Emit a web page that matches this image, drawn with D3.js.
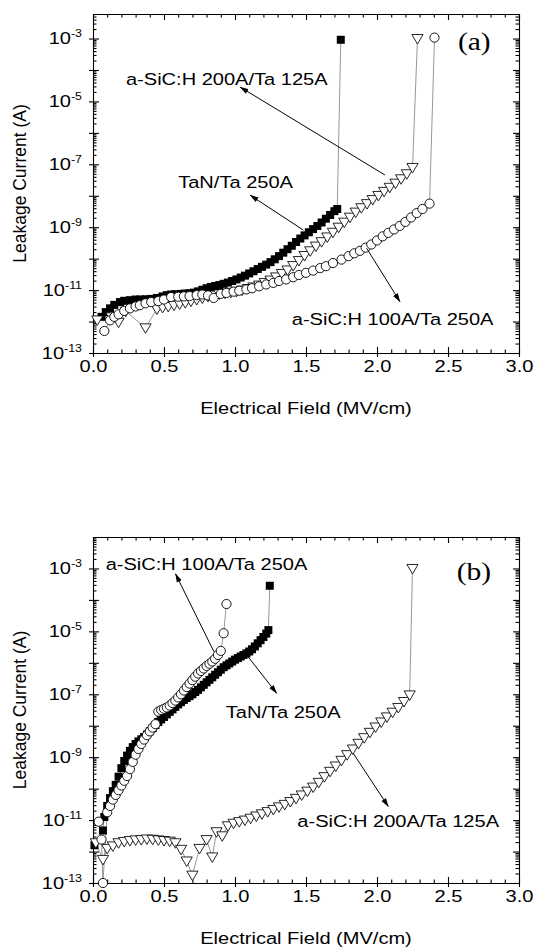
<!DOCTYPE html>
<html><head><meta charset="utf-8">
<script src="https://cdn.jsdelivr.net/npm/d3@7"></script>
<style>body{margin:0;background:#fff}svg{display:block}</style>
</head><body>
<svg id="c" width="535" height="951"></svg>
<script>
// ---------- tick / title data ----------
const xTickValues = [0, 0.5, 1, 1.5, 2, 2.5, 3];
const xTickLabels = ["0.0", "0.5", "1.0", "1.5", "2.0", "2.5", "3.0"];
const xMinorValues = [0.1,0.2,0.3,0.4,0.6,0.7,0.8,0.9,1.1,1.2,1.3,1.4,1.6,1.7,1.8,1.9,2.1,2.2,2.3,2.4,2.6,2.7,2.8,2.9];
const yLabelExps = [-3, -5, -7, -9, -11, -13];
const yMajorExps = [-3, -4, -5, -6, -7, -8, -9, -10, -11, -12, -13];
const xTitle = "Electrical Field (MV/cm)";
const yTitle = "Leakage Current (A)";
const seriesNames = ["TaN/Ta 250A", "a-SiC:H 200A/Ta 125A", "a-SiC:H 100A/Ta 250A"];

// ---------- panel (a): field (MV/cm) and log10 of leakage current (A) ----------
const aTaN_E = [0.06,0.09,0.12,0.15,0.19,0.22,0.26,0.30,0.33,0.37,0.41,0.45,0.49,0.52,0.55,0.58,0.62,0.65,0.68,0.71,0.74,0.77,0.80,0.83,0.86,0.89,0.92,0.95,0.98,1.01,1.04,1.07,1.10,1.13,1.16,1.19,1.22,1.25,1.28,1.31,1.34,1.37,1.40,1.43,1.46,1.49,1.52,1.55,1.58,1.61,1.64,1.67,1.70,1.72,1.745];
const aTaN_logI = [-11.85,-11.70,-11.58,-11.47,-11.38,-11.34,-11.32,-11.30,-11.30,-11.29,-11.28,-11.25,-11.20,-11.16,-11.14,-11.13,-11.12,-11.11,-11.10,-11.08,-11.04,-10.99,-10.94,-10.90,-10.87,-10.84,-10.80,-10.76,-10.71,-10.66,-10.60,-10.54,-10.47,-10.40,-10.33,-10.26,-10.19,-10.11,-10.02,-9.92,-9.81,-9.70,-9.59,-9.47,-9.36,-9.26,-9.16,-9.06,-8.96,-8.85,-8.73,-8.61,-8.49,-8.42,-3.04];

const a200_E = [0.03,0.13,0.18,0.23,0.37,0.45,0.49,0.53,0.57,0.61,0.65,0.69,0.73,0.77,0.81,0.85,0.89,0.93,0.97,1.01,1.05,1.09,1.13,1.17,1.21,1.25,1.29,1.33,1.37,1.41,1.45,1.49,1.53,1.57,1.61,1.65,1.69,1.73,1.77,1.81,1.85,1.89,1.93,1.97,2.01,2.05,2.09,2.13,2.17,2.21,2.25,2.285];
const a200_logI = [-11.95,-11.85,-12.02,-11.67,-12.20,-11.60,-11.55,-11.52,-11.48,-11.44,-11.40,-11.35,-11.30,-11.25,-11.20,-11.16,-11.12,-11.10,-11.07,-11.04,-11.00,-10.95,-10.90,-10.84,-10.76,-10.68,-10.58,-10.47,-10.36,-10.22,-10.06,-9.90,-9.75,-9.60,-9.46,-9.31,-9.16,-9.00,-8.84,-8.68,-8.52,-8.38,-8.25,-8.12,-7.99,-7.86,-7.73,-7.60,-7.46,-7.30,-7.10,-3.00];

const a100_E = [0.08,0.12,0.15,0.18,0.22,0.26,0.30,0.33,0.37,0.41,0.46,0.50,0.55,0.60,0.64,0.68,0.73,0.77,0.81,0.85,0.90,0.94,0.99,1.03,1.08,1.12,1.17,1.22,1.27,1.31,1.36,1.41,1.45,1.50,1.55,1.60,1.64,1.69,1.75,1.80,1.84,1.88,1.92,1.96,2.00,2.04,2.08,2.12,2.16,2.20,2.24,2.28,2.32,2.37,2.405];
const a100_logI = [-12.30,-11.96,-11.85,-11.77,-11.66,-11.58,-11.52,-11.48,-11.42,-11.38,-11.35,-11.30,-11.22,-11.21,-11.20,-11.19,-11.16,-11.14,-11.17,-11.25,-11.12,-11.09,-11.05,-11.02,-10.98,-10.94,-10.88,-10.82,-10.77,-10.71,-10.66,-10.59,-10.52,-10.45,-10.38,-10.30,-10.24,-10.14,-10.03,-9.92,-9.83,-9.75,-9.65,-9.55,-9.42,-9.29,-9.18,-9.07,-8.96,-8.83,-8.69,-8.55,-8.42,-8.25,-2.97];

// ---------- panel (b) ----------
const bTaN_E = [0.01,0.07,0.08,0.10,0.12,0.14,0.16,0.18,0.20,0.22,0.24,0.26,0.28,0.30,0.32,0.34,0.36,0.38,0.40,0.42,0.44,0.46,0.48,0.50,0.52,0.54,0.56,0.58,0.60,0.62,0.64,0.66,0.68,0.70,0.72,0.74,0.76,0.78,0.80,0.82,0.84,0.86,0.88,0.90,0.92,0.94,0.96,0.98,1.00,1.02,1.04,1.06,1.08,1.10,1.12,1.14,1.16,1.18,1.20,1.22,1.235,1.245];
const bTaN_logI = [-11.80,-11.33,-10.90,-10.55,-10.30,-10.08,-9.88,-9.62,-9.35,-9.12,-8.95,-8.80,-8.68,-8.58,-8.50,-8.43,-8.36,-8.28,-8.18,-8.08,-7.98,-7.88,-7.80,-7.72,-7.64,-7.56,-7.48,-7.40,-7.32,-7.25,-7.18,-7.12,-7.06,-7.00,-6.93,-6.86,-6.78,-6.70,-6.62,-6.54,-6.46,-6.38,-6.30,-6.22,-6.14,-6.08,-6.02,-5.96,-5.90,-5.85,-5.80,-5.75,-5.70,-5.64,-5.57,-5.48,-5.38,-5.28,-5.18,-5.07,-4.96,-3.55];

const b200_E = [0.02,0.07,0.10,0.14,0.18,0.22,0.26,0.30,0.34,0.38,0.42,0.46,0.50,0.54,0.58,0.62,0.66,0.70,0.75,0.80,0.84,0.87,0.91,0.95,0.99,1.03,1.07,1.11,1.15,1.19,1.23,1.27,1.31,1.35,1.39,1.43,1.47,1.51,1.55,1.59,1.63,1.67,1.71,1.75,1.79,1.83,1.87,1.91,1.95,1.99,2.03,2.07,2.11,2.15,2.19,2.23,2.25];
const b200_logI = [-11.72,-12.25,-11.90,-11.82,-11.72,-11.68,-11.65,-11.63,-11.62,-11.60,-11.61,-11.63,-11.65,-11.67,-11.72,-11.93,-12.30,-12.75,-11.90,-11.62,-12.17,-11.37,-11.50,-11.18,-11.10,-11.05,-11.00,-10.94,-10.87,-10.80,-10.73,-10.66,-10.58,-10.50,-10.41,-10.31,-10.20,-10.08,-9.95,-9.80,-9.62,-9.45,-9.28,-9.10,-8.92,-8.74,-8.56,-8.38,-8.21,-8.04,-7.88,-7.72,-7.57,-7.42,-7.23,-7.02,-3.00];

const b100_E = [0.04,0.06,0.07,0.10,0.12,0.14,0.16,0.18,0.20,0.22,0.24,0.26,0.28,0.30,0.32,0.34,0.36,0.38,0.40,0.42,0.44,0.46,0.48,0.50,0.52,0.54,0.56,0.58,0.60,0.62,0.64,0.66,0.68,0.70,0.72,0.74,0.76,0.78,0.80,0.82,0.84,0.86,0.88,0.90,0.92,0.94];
const b100_logI = [-11.05,-11.62,-13.0,-10.75,-10.55,-10.35,-10.20,-10.05,-9.90,-9.75,-9.60,-9.38,-9.15,-8.92,-8.74,-8.58,-8.44,-8.30,-8.18,-8.06,-7.95,-7.55,-7.50,-7.46,-7.42,-7.36,-7.28,-7.20,-7.10,-7.00,-6.88,-6.77,-6.66,-6.55,-6.44,-6.34,-6.26,-6.18,-6.10,-6.03,-5.96,-5.87,-5.75,-5.62,-5.06,-4.13];

// ---------- annotations (data coordinates: field, log10 I) ----------
const aNotes = [
  {text: seriesNames[1], at: [0.232, -4.48], from: [2.056, -7.34], to: [1.035, -4.54]},
  {text: seriesNames[0], at: [0.600, -7.76], from: [1.481, -9.09], to: [1.106, -7.98]},
  {text: seriesNames[2], at: [1.400, -12.11], from: [1.927, -9.67], to: [2.162, -11.37]}
];
const bNotes = [
  {text: seriesNames[2], at: [0.089, -3.06], from: [0.852, -5.65], to: [0.581, -3.17]},
  {text: seriesNames[0], at: [0.935, -7.76], from: [1.082, -5.75], to: [1.294, -6.97]},
  {text: seriesNames[1], at: [1.439, -11.21], from: [1.833, -8.88], to: [2.080, -10.57]}
];

const panels = [
  {tag: "(a)", tagAt: [2.57, -3.35], top: 14, bottom: 353, yMaxExp: -2.22,
   series: [{E: aTaN_E, L: aTaN_logI, sym: "square"}, {E: a200_E, L: a200_logI, sym: "tri"}, {E: a100_E, L: a100_logI, sym: "circle"}],
   notes: aNotes},
  {tag: "(b)", tagAt: [2.561, -3.37], top: 537, bottom: 883, yMaxExp: -2.0,
   series: [{E: bTaN_E, L: bTaN_logI, sym: "square"}, {E: b200_E, L: b200_logI, sym: "tri"}, {E: b100_E, L: b100_logI, sym: "circle"}],
   notes: bNotes}
];

// ---------- drawing ----------
const SX = 1.18;
const SANS = "'Liberation Sans', Arial, Helvetica, sans-serif";
const SERIF = "'Liberation Serif', 'Times New Roman', serif";
const svg = d3.select("#c");
const defs = svg.append("defs");
defs.append("marker").attr("id", "ah").attr("viewBox", "0 -3 9 6")
  .attr("refX", 8.5).attr("refY", 0).attr("markerWidth", 9).attr("markerHeight", 6)
  .attr("markerUnits", "userSpaceOnUse").attr("orient", "auto")
  .append("path").attr("d", "M0,-2.7L9,0L0,2.7Z").attr("fill", "#000");

const L = 93, R = 519;

panels.forEach(p => {
  const x = d3.scaleLinear().domain([0, 3]).range([L, R]);
  const y = d3.scaleLog().domain([1e-13, Math.pow(10, p.yMaxExp)]).range([p.bottom, p.top]);
  const g = svg.append("g");
  const yMinor = [];
  for (let e = -13; e < -2; e++) for (let m = 2; m <= 9; m++) { const v = m * Math.pow(10, e); if (v < y.domain()[1]) yMinor.push(v); }
  const yMajor = yMajorExps.map(e => Math.pow(10, e));

  const styleAxis = s => { s.selectAll("path,line").attr("stroke", "#000").attr("stroke-width", 1.1); s.attr("font-family", SANS); };

  // bottom
  g.append("g").attr("transform", `translate(0,${p.bottom})`)
    .call(d3.axisBottom(x).tickValues(xTickValues).tickSize(4).tickSizeOuter(0).tickPadding(3)
      .tickFormat((d, i) => xTickLabels[i]))
    .call(styleAxis)
    .call(s => s.selectAll("text").attr("font-size", 17).attr("fill", "#000").attr("transform", `scale(${SX},1)`));
  g.append("g").attr("transform", `translate(0,${p.bottom})`)
    .call(d3.axisBottom(x).tickValues(xTickValues).tickSize(-6).tickFormat(""))
    .call(styleAxis).call(s => s.select(".domain").remove());
  g.append("g").attr("transform", `translate(0,${p.bottom})`)
    .call(d3.axisBottom(x).tickValues(xMinorValues).tickSize(-3.5).tickFormat(""))
    .call(styleAxis).call(s => s.select(".domain").remove());
  // top
  g.append("g").attr("transform", `translate(0,${p.top})`)
    .call(d3.axisTop(x).tickValues(xTickValues).tickSize(-6).tickSizeOuter(0).tickFormat(""))
    .call(styleAxis);
  g.append("g").attr("transform", `translate(0,${p.top})`)
    .call(d3.axisTop(x).tickValues(xMinorValues).tickSize(-3.5).tickFormat(""))
    .call(styleAxis).call(s => s.select(".domain").remove());
  // left
  g.append("g").attr("transform", `translate(${L},0)`)
    .call(d3.axisLeft(y).tickValues(yMajor).tickSize(4).tickSizeOuter(0).tickPadding(5.3).tickFormat(""))
    .call(styleAxis);
  g.append("g").attr("transform", `translate(${L},0)`)
    .call(d3.axisLeft(y).tickValues(yMajor).tickSize(-6).tickFormat(""))
    .call(styleAxis).call(s => s.select(".domain").remove());
  g.append("g").attr("transform", `translate(${L},0)`)
    .call(d3.axisLeft(y).tickValues(yMinor).tickSize(-3.5).tickFormat(""))
    .call(styleAxis).call(s => s.select(".domain").remove());
  // right
  g.append("g").attr("transform", `translate(${R},0)`)
    .call(d3.axisRight(y).tickValues(yMajor).tickSize(-6).tickSizeOuter(0).tickFormat(""))
    .call(styleAxis);
  g.append("g").attr("transform", `translate(${R},0)`)
    .call(d3.axisRight(y).tickValues(yMinor).tickSize(-3.5).tickFormat(""))
    .call(styleAxis).call(s => s.select(".domain").remove());

  // y tick labels 10^n
  yLabelExps.forEach(e => {
    const t = g.append("text")
      .attr("transform", `translate(${L - 11},${y(Math.pow(10, e)) + 5.5}) scale(${SX},1)`)
      .attr("text-anchor", "end").attr("font-family", SANS).attr("font-size", 17).attr("fill", "#000");
    t.append("tspan").text("10");
    t.append("tspan").attr("font-size", 10.5).attr("dy", -7).text(String(e));
  });

  // axis titles
  g.append("text").attr("transform", `translate(${(L + R) / 2},${p.bottom + 60.5}) scale(${SX},1)`)
    .attr("text-anchor", "middle").attr("font-family", SANS).attr("font-size", 17).text(xTitle);
  g.append("text").attr("transform", `translate(26,${(p.top + p.bottom) / 2}) rotate(-90)`)
    .attr("text-anchor", "middle").attr("font-family", SANS).attr("font-size", 17.5).text(yTitle);

  // series lines
  const line = d3.line().x(d => x(d[0])).y(d => y(d[1]));
  const pts = p.series.map(s => s.E.map((v, i) => [v, Math.pow(10, s.L[i])]));
  pts.forEach(d => g.append("path").attr("d", line(d)).attr("fill", "none").attr("stroke", "#8c8c8c").attr("stroke-width", 0.9));

  // markers
  p.series.forEach((s, k) => {
    const d = pts[k];
    const mg = g.append("g");
    if (s.sym === "square") {
      mg.selectAll("rect").data(d).join("rect")
        .attr("x", q => x(q[0]) - 4).attr("y", q => y(q[1]) - 4).attr("width", 8).attr("height", 8).attr("fill", "#000");
    } else if (s.sym === "circle") {
      mg.selectAll("circle").data(d).join("circle")
        .attr("cx", q => x(q[0])).attr("cy", q => y(q[1])).attr("r", 4.6)
        .attr("fill", "#fff").attr("stroke", "#000").attr("stroke-width", 0.9);
    } else {
      mg.selectAll("path").data(d).join("path")
        .attr("d", q => { const cx = x(q[0]), cy = y(q[1]); return `M${cx - 5.6},${cy - 4}L${cx + 5.6},${cy - 4}L${cx},${cy + 5.5}Z`; })
        .attr("fill", "#fff").attr("stroke", "#000").attr("stroke-width", 0.85);
    }
  });

  // annotations
  p.notes.forEach(n => {
    g.append("line").attr("x1", x(n.from[0])).attr("y1", y(Math.pow(10, n.from[1])))
      .attr("x2", x(n.to[0])).attr("y2", y(Math.pow(10, n.to[1])))
      .attr("stroke", "#000").attr("stroke-width", 1).attr("marker-end", "url(#ah)");
    g.append("text").attr("transform", `translate(${x(n.at[0])},${y(Math.pow(10, n.at[1]))}) scale(${SX},1)`)
      .attr("font-family", SANS).attr("font-size", 17).attr("fill", "#000").text(n.text);
  });
  g.append("text").attr("transform", `translate(${x(p.tagAt[0])},${y(Math.pow(10, p.tagAt[1]))}) scale(${SX},1)`)
    .attr("font-family", SERIF).attr("font-size", 25).attr("fill", "#000").text(p.tag);
});
</script>
</body></html>
